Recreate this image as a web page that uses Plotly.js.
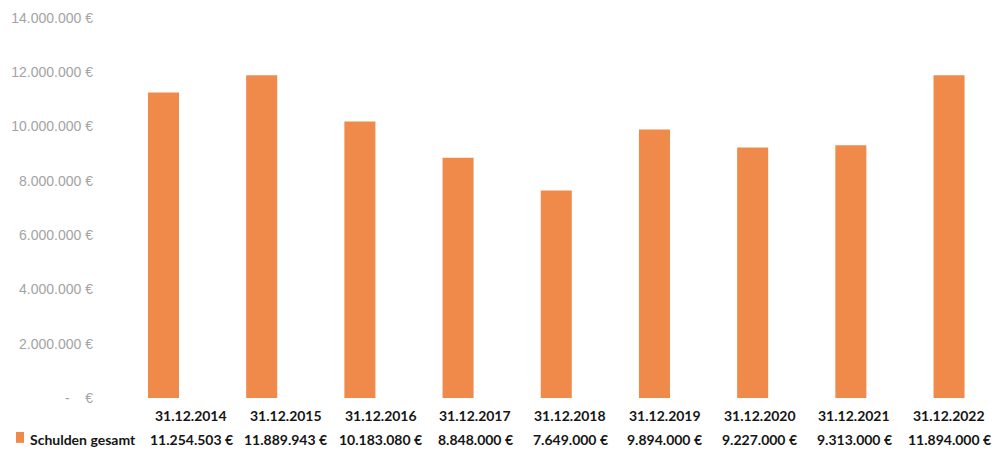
<!DOCTYPE html>
<html>
<head>
<meta charset="utf-8">
<script src="https://cdn.plot.ly/plotly-3.0.1.min.js"></script>
<style>html,body{margin:0;padding:0;background:#fff;}#chart{width:995px;height:450px;}</style>
</head>
<body>
<div id="chart"></div>
<script>
const categories = ["31.12.2014","31.12.2015","31.12.2016","31.12.2017","31.12.2018","31.12.2019","31.12.2020","31.12.2021","31.12.2022"];
const debtTotal = [11254503, 11889943, 10183080, 8848000, 7649000, 9894000, 9227000, 9313000, 11894000];
const seriesName = "Schulden gesamt";
const yTickValues = [0, 2000000, 4000000, 6000000, 8000000, 10000000, 12000000, 14000000];

function fmtEuro(v) {
  if (v === 0) return "-\u00a0\u00a0\u00a0\u00a0€";
  return v.toString().replace(/\B(?=(\d{3})+(?!\d))/g, ".") + " €";
}

const W = 995, ML = 114, MR = 0;
const plotW = W - ML - MR;
const barColor = "#F08A4B";
const labelFont = {family: "Lato, Open Sans, sans-serif", size: 14, color: "#151515"};

// data table columns (pixel layout of the table below the plot)
const tableX0 = 191, tableStep = 94.75;
const annotations = [];
categories.forEach((c, i) => {
  const px = (tableX0 + tableStep * i - ML) / plotW;
  annotations.push({x: px, y: -0.047, xref: "paper", yref: "paper", text: "<b>" + c + "</b>", showarrow: false, font: labelFont, xanchor: "center", yanchor: "middle"});
  annotations.push({x: px, y: -0.108, xref: "paper", yref: "paper", text: "<b>" + fmtEuro(debtTotal[i]) + "</b>", showarrow: false, font: labelFont, xanchor: "center", yanchor: "middle"});
});
annotations.push({x: (28 - ML) / plotW, y: -0.108, xref: "paper", yref: "paper", text: "<b>" + seriesName + "</b>", showarrow: false, font: labelFont, xanchor: "left", yanchor: "middle"});

const data = [{
  type: "bar",
  x: categories.map((c, i) => i),
  y: debtTotal,
  marker: {color: barColor},
  name: seriesName,
  hoverinfo: "skip"
}];

const layout = {
  width: 995, height: 450,
  margin: {l: ML, r: MR, t: 18, b: 52},
  paper_bgcolor: "#fff", plot_bgcolor: "#fff",
  showlegend: false,
  bargap: 0.684,
  xaxis: {range: [-0.504, 8.468], showticklabels: false, showgrid: false, zeroline: false, showline: false, ticks: ""},
  yaxis: {range: [0, 14000000], tickvals: yTickValues, ticktext: yTickValues.map(fmtEuro), showgrid: false, zeroline: false, showline: false,
          tickfont: {family: "Liberation Sans, sans-serif", size: 14, color: "#a3a3a3"}, ticks: "", ticklabelstandoff: 20},
  annotations: annotations,
  shapes: [{type: "rect", xref: "paper", yref: "paper", x0: (16 - ML) / plotW, x1: (24 - ML) / plotW, y0: -0.118, y1: -0.0895, fillcolor: barColor, line: {width: 0}}]
};

Plotly.newPlot("chart", data, layout, {displayModeBar: false, staticPlot: true});
</script>
</body>
</html>
